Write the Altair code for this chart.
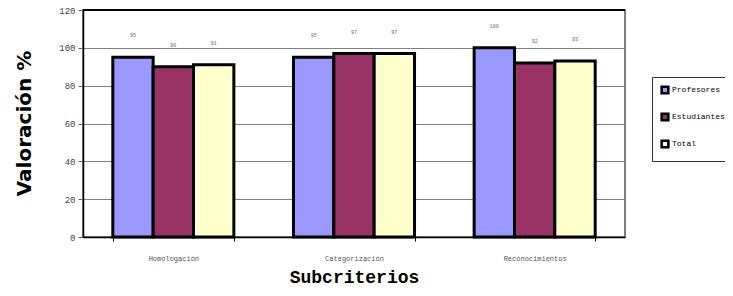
import altair as alt
import pandas as pd

categories = ["Homologación", "Categorización", "Reconocimientos"]
series = ["Profesores", "Estudiantes", "Total"]
profesores = [95, 95, 100]
estudiantes = [90, 97, 92]
total = [91, 97, 93]
colors = ["#9999FF", "#993366", "#FFFFCC"]
y_ticks = [0, 20, 40, 60, 80, 100, 120]

rows = []
for i, c in enumerate(categories):
    for s, vals in zip(series, [profesores, estudiantes, total]):
        rows.append({"cat": c, "serie": s, "val": vals[i]})
df = pd.DataFrame(rows)

x_enc = alt.X(
    "cat:N", sort=categories,
    scale=alt.Scale(paddingInner=0.33, paddingOuter=0.165),
    axis=alt.Axis(
        title="Subcriterios", labelAngle=0, labelFont="Liberation Mono",
        labelFontSize=7, labelColor="#555555", labelPadding=13,
        tickBand="extent", tickSize=4, tickColor="black", domainColor="black",
        domainWidth=1.5, grid=False, zindex=0,
        titleFont="Liberation Mono", titleFontSize=18, titleFontWeight="bold",
        titleColor="black", titleBaseline="alphabetic", titleY=45, titleX=271,
    ),
)
xo_enc = alt.XOffset("serie:N", sort=series, scale=alt.Scale(paddingInner=0, paddingOuter=0))
y_enc = alt.Y(
    "val:Q",
    scale=alt.Scale(domain=[0, 120], nice=False),
    axis=alt.Axis(
        values=y_ticks, labelOverlap=False, title="Valoración %",
        labelFont="Liberation Mono", zindex=0,
        labelFontSize=9, labelColor="#444444", tickSize=5, tickColor="#666666",
        labelPadding=3, domainColor="black", domainWidth=1.5,
        grid=True, gridColor="#808080", gridWidth=1.2,
        titleFont="DejaVu Sans", titleFontSize=20, titleFontWeight=900,
        titleColor="black", titleAngle=270, titleX=-59, titleY=113,
        titleAlign="center", titleBaseline="middle",
    ),
)

bars = alt.Chart(df).mark_bar(stroke="black", strokeWidth=3).encode(
    x=x_enc, xOffset=xo_enc, y=y_enc,
    color=alt.Color(
        "serie:N", sort=series,
        scale=alt.Scale(domain=series, range=colors),
        legend=alt.Legend(
            title=None, orient="none", legendX=569, legendY=67,
            symbolType="square", symbolSize=45, symbolStrokeColor="black",
            symbolStrokeWidth=2.5, labelFont="Liberation Mono", labelFontSize=8,
            labelColor="black", strokeColor="#333333", fillColor="white",
            padding=8, rowPadding=9, labelOffset=2,
        ),
    ),
)

labels = alt.Chart(df).mark_text(
    dy=-22, fontSize=5, color="#666666", font="Liberation Mono"
).encode(x=x_enc, xOffset=xo_enc, y=y_enc, text="val:Q")

top = alt.Chart(pd.DataFrame({"val": [y_ticks[-1]]})).mark_rule(
    color="black", strokeWidth=2
).encode(y=y_enc)

chart = alt.layer(bars, labels, top).properties(
    width=542, height=227,
    autosize=alt.AutoSizeParams(type="none"),
    padding={"left": 75, "top": 2, "right": 100, "bottom": 51},
).configure_view(stroke="#555555", strokeWidth=1.5)

chart.save("out.html", embed_options={"renderer": "svg", "actions": False})
